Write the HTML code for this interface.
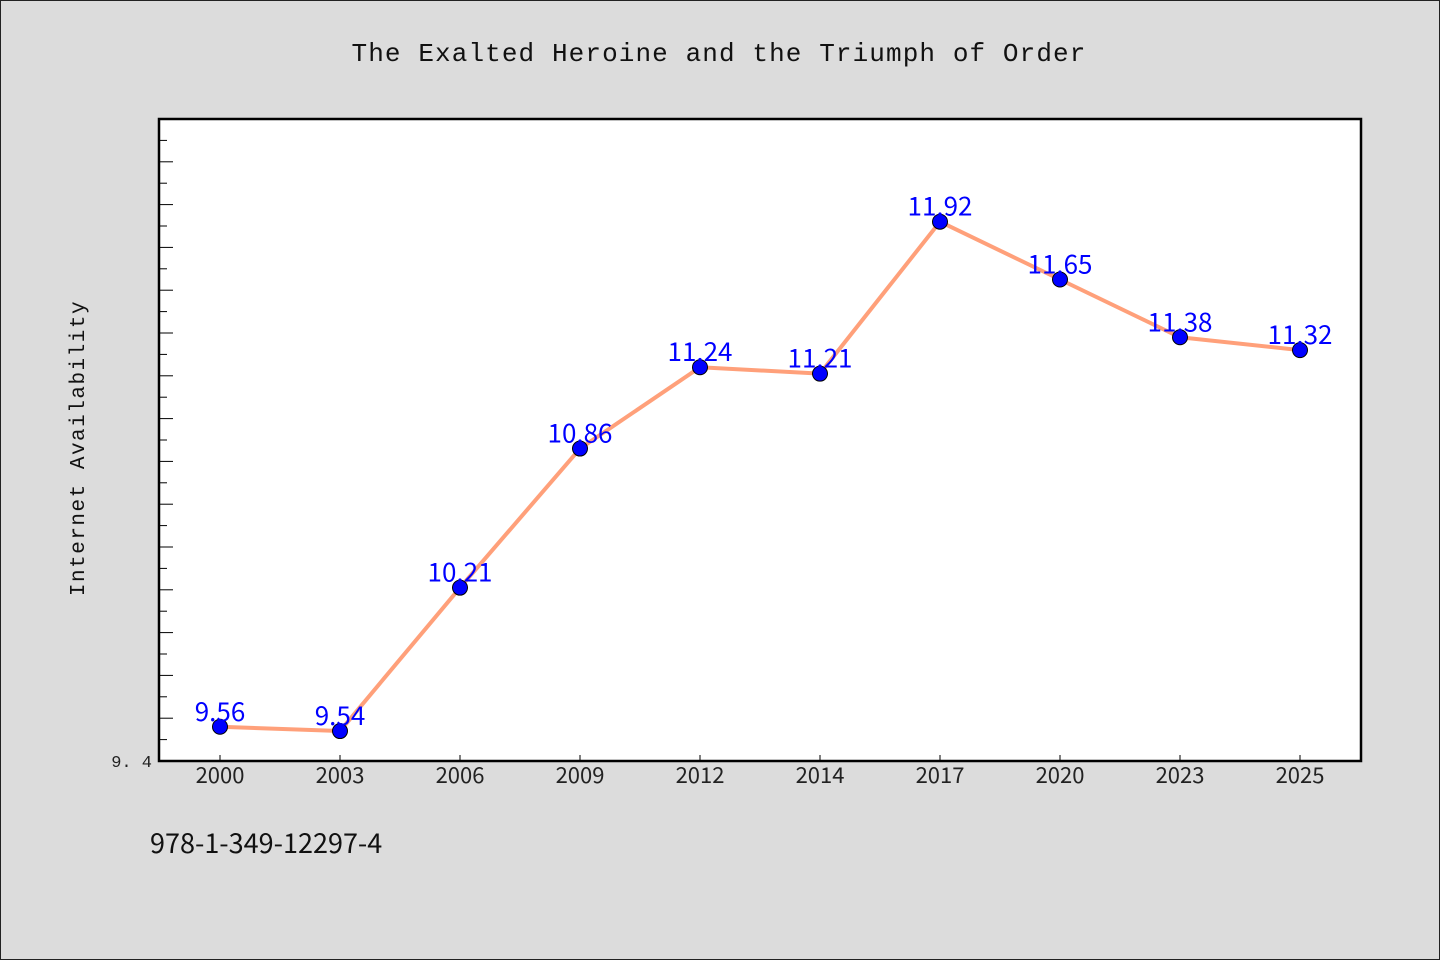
<!DOCTYPE html>
<html><head><meta charset="utf-8"><style>
html,body{margin:0;padding:0;background:#dcdcdc;}
svg{display:block;}
</style></head><body>
<svg width="1440" height="960" xmlns="http://www.w3.org/2000/svg">
<rect x="0.5" y="0.5" width="1439" height="959" fill="#dcdcdc" stroke="#222"/>
<text x="719" y="61" text-anchor="middle" font-family="Liberation Mono, monospace" font-size="26" letter-spacing="1.1" fill="#111">The Exalted Heroine and the Triumph of Order</text>
<rect x="159" y="119" width="1202" height="642" fill="#fff" stroke="#000" stroke-width="2.5"/>
<text transform="translate(84,448) rotate(-90)" text-anchor="middle" font-family="Liberation Mono, monospace" font-size="21" letter-spacing="1.5" fill="#111">Internet Availability</text>
<text x="150" y="853" font-family="'WenQuanYi Zen Hei','Noto Sans CJK SC',sans-serif" font-size="27" fill="#111">978-1-349-12297-4</text>
<g id="ticks"></g>
<g id="marks"></g>
</svg>
<script>
const categories=["2000","2003","2006","2009","2012","2014","2017","2020","2023","2025"];
const values=[9.56,9.54,10.21,10.86,11.24,11.21,11.92,11.65,11.38,11.32];
const yMin=9.4, yMax=12.4;
const NS="http://www.w3.org/2000/svg";
const L=159,R=1361,T=119,B=761;
function x(i){return 220+i*(1300-220)/(categories.length-1);}
function y(v){return B-(v-yMin)/(yMax-yMin)*(B-T);}
function mk(tag,attrs,parent){const e=document.createElementNS(NS,tag);for(const k in attrs)e.setAttribute(k,attrs[k]);parent.appendChild(e);return e;}
const ticks=document.getElementById('ticks'),marks=document.getElementById('marks');
for(let k=1;k<30;k++){
  const v=yMin+k*0.1;const long=k%2===0;
  const t=mk('line',{x1:L,x2:L+(long?14:8),y1:y(v),y2:y(v),stroke:'#000','stroke-width':1},ticks);
  
  
}
const yl=mk('text',{x:152,y:B+6,'text-anchor':'end','font-family':'Liberation Mono, monospace','font-size':17,fill:'#222'},ticks);
yl.textContent=yMin.toFixed(1).replace('.', '. ');


categories.forEach((c,i)=>{
  const t=mk('line',{x1:x(i),x2:x(i),y1:B,y2:B-6,stroke:'#000','stroke-width':1},ticks);
  
  
  const lb=mk('text',{x:x(i),y:B+22,'text-anchor':'middle','font-family':"'WenQuanYi Zen Hei','Noto Sans CJK SC',sans-serif",'font-size':22,fill:'#222'},ticks);
  lb.textContent=c;
  
  
});
const pts=values.map((v,i)=>x(i)+','+y(v)).join(' ');
const line=mk('polyline',{points:pts,fill:'none',stroke:'#ffa07a','stroke-width':4,'stroke-linejoin':'round'},marks);


values.forEach((v,i)=>{
  const c=mk('circle',{cx:x(i),cy:y(v),r:7.5,fill:'#0000ff',stroke:'#000','stroke-width':1},marks);
  
  
  const t=mk('text',{x:x(i),y:y(v)-6,'text-anchor':'middle','font-family':"'WenQuanYi Zen Hei','Noto Sans CJK SC',sans-serif",'font-size':26,fill:'#0000ff'},marks);
  t.textContent=v.toFixed(2);
  
  
});
</script>
</body></html>
